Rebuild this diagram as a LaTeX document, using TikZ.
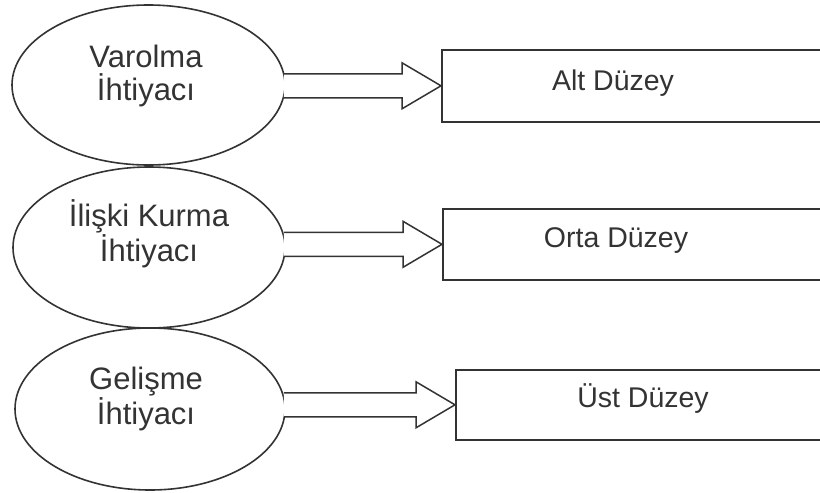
\documentclass[tikz,border=0pt]{standalone}
\usepackage{fontspec}
\setmainfont{Liberation Sans}
\usetikzlibrary{shapes.geometric,calc}
\definecolor{ink}{HTML}{333333}
\tikzset{
  oval/.style={ellipse,draw=ink,line width=1.6pt,inner sep=0pt},
  levelbox/.style={rectangle,draw=ink,line width=1.6pt,inner sep=0pt,minimum width=420pt,anchor=north west},
  lbl/.style={text=ink,font=\fontsize{28.5}{33}\selectfont,align=center,inner sep=0pt,anchor=base},
  ovallbl/.style={lbl,font=\fontsize{31}{33}\selectfont},
  bigarrow/.style={draw=ink,line width=1.5pt,line join=miter,fill=white}
}
\begin{document}
\begin{tikzpicture}[x=1pt,y=-1pt]
\useasboundingbox (0,0) rectangle (820,493);
\clip (0,0) rectangle (820,493);
\fill[white] (0,0) rectangle (820,493);
% ellipses
\node[oval,minimum width=273pt,minimum height=160pt] (e1) at (148.5,85) {};
\node[oval,minimum width=272pt,minimum height=161pt] (e2) at (149,247.5) {};
\node[oval,minimum width=270pt,minimum height=162pt] (e3) at (150,409) {};
\node[ovallbl] (t1) at (146,100) {Varolma\\İhtiyacı};
\node[ovallbl] (t2) at (149,261) {İlişki Kurma\\İhtiyacı};
\node[ovallbl] (t3) at (146,424) {Gelişme\\İhtiyacı};
% boxes
\node[levelbox,minimum height=72pt] (r1) at (441,49) {};
\node[levelbox,minimum height=71pt] (r2) at (442,208) {};
\node[levelbox,minimum height=70pt] (r3) at (455,369) {};
\node[lbl] (b1) at (613,90) {Alt Düzey};
\node[lbl] (b2) at (616,247) {Orta Düzey};
\node[lbl] (b3) at (643,407) {Üst Düzey};
% arrows
\foreach \e/\r in {e1/r1,e2/r2,e3/r3}{
  \draw[bigarrow] ($(\e.east|-\r.west)+(-2,-12)$) -- ($(\r.west)+(-39,-12)$) -- ($(\r.west)+(-39,-23)$) -- (\r.west)
    -- ($(\r.west)+(-39,23)$) -- ($(\r.west)+(-39,12)$) -- ($(\e.east|-\r.west)+(-2,12)$);
}
\end{tikzpicture}
\end{document}
